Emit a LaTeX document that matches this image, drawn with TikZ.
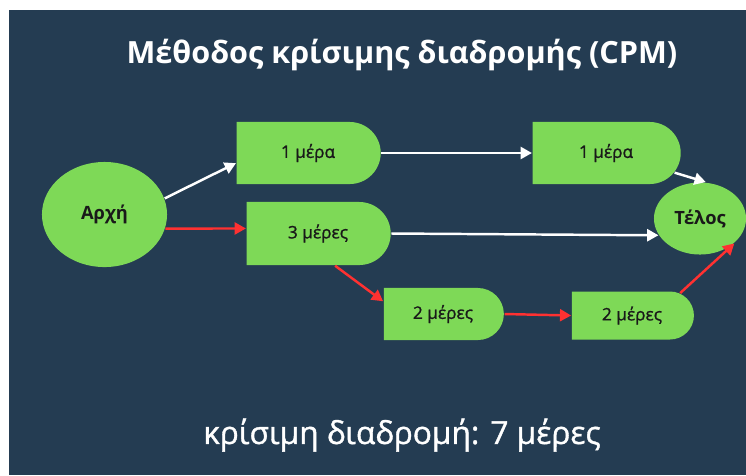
\documentclass[tikz,border=0pt]{standalone}
\usepackage{fontspec}
\setmainfont{Open Sans}
\newfontfamily\semifont{Open Sans}[FakeBold=1.2]
\usetikzlibrary{arrows.meta,shapes.geometric,shapes.misc}
\definecolor{navy}{HTML}{243C52}
\definecolor{leaf}{HTML}{7ED957}
\definecolor{alarm}{HTML}{FF3131}
\begin{document}
\begin{tikzpicture}[x=0.01cm,y=-0.01cm,
  task/.style={rounded rectangle,rounded rectangle west arc=none,fill=leaf,inner sep=0pt,
    text=black!90,font=\semifont\fontsize{4.9}{6}\selectfont},
  event/.style={ellipse,fill=leaf,inner sep=0pt,text=black!90,font=\bfseries\fontsize{5.2}{6}\selectfont},
  link/.style={white,line width=0.7pt,-{Triangle[length=3.2pt,width=3.4pt]}},
  crit/.style={link,alarm}]
\useasboundingbox (0,0) rectangle (746,475);
\fill[white] (0,0) rectangle (746,475);
\fill[navy] (9,10) rectangle (746,475);
\node[white,font=\bfseries\fontsize{8.7}{10}\selectfont] (title) at (402,55) {Μέθοδος κρίσιμης διαδρομής (CPM)};
\node[white,font=\semifont\fontsize{9}{10}\selectfont] (total) at (402,435) {κρίσιμη διαδρομή: 7 μέρες};
% events
\node[event,minimum width=1.25cm,minimum height=1.05cm] (start) at (104.5,214.5) {Αρχή};
\node[event,minimum width=0.92cm,minimum height=0.72cm] (finish) at (700,218.5) {Τέλος};
% activities
\node[task,minimum width=1.44cm,minimum height=0.62cm] (a1) at (308,153) {1 μέρα};
\node[task,minimum width=1.44cm,minimum height=0.63cm] (b3) at (318,233.5) {3 μέρες};
\node[task,minimum width=1.48cm,minimum height=0.62cm] (c1) at (606,153) {1 μέρα};
\node[task,minimum width=1.20cm,minimum height=0.52cm] (d2) at (443,314) {2 μέρες};
\node[task,minimum width=1.22cm,minimum height=0.48cm] (e2) at (632,315.5) {2 μέρες};
\draw[link] (start.15) -- (a1.188);
\draw[link] (a1.east) -- (c1.west);
\draw[link] (c1.-16) -- (finish.81);
\draw[link] (b3.east) -- (finish.202);
\draw[crit] (start.-13) -- (b3.176);
\draw[crit] (b3.-62) -- (d2.168);
\draw[crit] (d2.east) -- (e2.west);
\draw[crit] (e2.25) -- (finish.-36);
\end{tikzpicture}
\end{document}
